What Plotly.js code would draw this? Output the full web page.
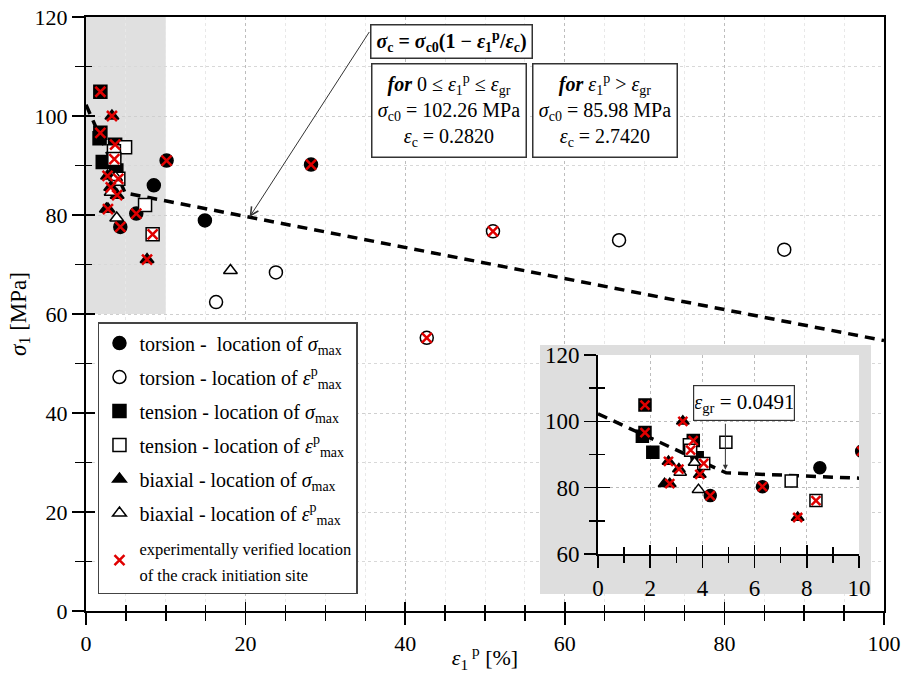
<!DOCTYPE html>
<html>
<head>
<meta charset="utf-8">
<script src="https://cdn.plot.ly/plotly-3.0.1.min.js"></script>
<style>html,body{margin:0;padding:0;background:#fff;}#chart{width:903px;height:673px;}</style>
</head>
<body>
<div id="chart"></div>
<script>
// ---- data (strain in %, stress in MPa) ----
// torsion - location of sigma_max (filled circles)
const torSigX = [28.2, 14.9, 8.5, 10.1, 6.3, 4.3];
const torSigY = [90.2, 78.9, 86.0, 91.0, 80.3, 77.6];
const torSigV = [1, 0, 0, 1, 1, 1];
// torsion - location of eps^p_max (open circles)
const torEpsX = [16.3, 23.8, 66.8, 87.5, 51.0, 42.7];
const torEpsY = [62.4, 68.4, 74.9, 73.0, 76.7, 55.2];
const torEpsV = [0, 0, 0, 0, 1, 1];
// tension - location of sigma_max (filled squares)
const tenSigX = [1.8, 1.7, 1.8, 2.1, 3.65, 3.8];
const tenSigY = [104.9, 95.5, 96.6, 90.7, 94.2, 89.0];
const tenSigV = [1, 0, 1, 0, 1, 0];
// tension - location of eps^p_max (open squares)
const tenEpsX = [4.9, 7.4, 8.35, 3.5, 3.55, 4.05];
const tenEpsY = [93.7, 82.0, 76.1, 92.9, 91.3, 87.3];
const tenEpsV = [0, 0, 1, 0, 1, 1];
// biaxial - location of sigma_max (filled triangles)
const biaSigX = [3.25, 2.7, 3.1, 3.9, 2.55, 2.75, 7.65];
const biaSigY = [100.0, 87.9, 85.6, 84.0, 81.2, 81.2, 71.0];
const biaSigV = [1, 1, 1, 1, 0, 1, 1];
// biaxial - location of eps^p_max (open triangles)
const biaEpsX = [18.1, 3.7, 3.15, 3.85];
const biaEpsY = [68.8, 87.6, 84.6, 79.4];
const biaEpsV = [0, 0, 0, 0];
// fitted bilinear criterion (vertices)
const fitX = [0, 4.91, 100];
const fitY = [102.26, 84.45, 54.62];

const legendNames = [
  'torsion -  location of <i>σ</i><sub>max</sub>',
  'torsion - location of <i>ε</i><sup>p</sup><sub>max</sub>',
  'tension - location of <i>σ</i><sub>max</sub>',
  'tension - location of <i>ε</i><sup>p</sup><sub>max</sub>',
  'biaxial - location of <i>σ</i><sub>max</sub>',
  'biaxial - location of <i>ε</i><sup>p</sup><sub>max</sub>',
  '<span style="font-size:16.5px">experimentally verified location</span><br><span style="font-size:16.5px">of the crack initiation site</span>'
];

const FONT = 'Liberation Serif, Times New Roman, serif';
const RED = '#e00000';

const series = [
  {x: torSigX, y: torSigY, v: torSigV, sym: 'circle', fill: '#000', size: 13},
  {x: torEpsX, y: torEpsY, v: torEpsV, sym: 'circle', fill: '#fff', size: 13},
  {x: tenSigX, y: tenSigY, v: tenSigV, sym: 'square', fill: '#000', size: 13},
  {x: tenEpsX, y: tenEpsY, v: tenEpsV, sym: 'square', fill: '#fff', size: 13},
  {x: biaSigX, y: biaSigY, v: biaSigV, sym: 'triangle-up', fill: '#000', size: 12},
  {x: biaEpsX, y: biaEpsY, v: biaEpsV, sym: 'triangle-up', fill: '#fff', size: 12}
];

const data = [];
function addSet(xa, ya, legend) {
  data.push({x: fitX, y: fitY, xaxis: xa, yaxis: ya, mode: 'lines', showlegend: false,
    hoverinfo: 'skip', legendgroup: 'fit', line: {color: '#000', width: 3.5, dash: '10px,7px'}});
  series.forEach((s, i) => {
    data.push({x: s.x, y: s.y, xaxis: xa, yaxis: ya, mode: 'markers', type: 'scatter',
      name: legendNames[i], showlegend: legend, legendgroup: 'g' + i,
      marker: {symbol: s.sym, color: s.fill, size: legend ? s.size : s.size - 1,
               line: {color: '#000', width: 1.5}}});
  });
  const vx = [], vy = [];
  series.forEach(s => s.v.forEach((f, k) => { if (f) { vx.push(s.x[k]); vy.push(s.y[k]); } }));
  data.push({x: vx, y: vy, xaxis: xa, yaxis: ya, mode: 'markers', type: 'scatter',
    name: legendNames[6], showlegend: legend, legendgroup: 'g6',
    marker: {symbol: 'x-thin-open', size: legend ? 10 : 9, color: RED, line: {color: RED, width: 2.5}}});
}
addSet('x', 'y', true);
addSet('x3', 'y3', false);
// empty helper traces so the overlay tick axes exist
[['x4', 'y'], ['x', 'y4'], ['x5', 'y3'], ['x3', 'y5'], ['x2', 'y2']].forEach(p => {
  data.push({x: [], y: [], xaxis: p[0], yaxis: p[1], showlegend: false, hoverinfo: 'skip', legendgroup: 'fit'});
});

const tickFont = {family: FONT, size: 22, color: '#000'};
const insetFont = {family: FONT, size: 23, color: '#000'};
const layout = {
  width: 903, height: 673,
  margin: {l: 86, r: 19, t: 17, b: 62},
  paper_bgcolor: '#fff', plot_bgcolor: '#fff',
  font: {family: FONT, size: 20, color: '#000'},
  showlegend: true,
  xaxis: {domain: [0, 1], range: [0, 100], anchor: 'y', dtick: 20, tick0: 0,
    showline: true, linecolor: '#000', linewidth: 2, mirror: true,
    ticks: 'outside', ticklen: 12, tickwidth: 1.5, tickcolor: '#000',
    showgrid: true, gridcolor: '#bdbdbd', griddash: 'dot', gridwidth: 1,
    minor: {dtick: 5, ticks: 'outside', ticklen: 8, tickwidth: 1.5, tickcolor: '#000',
            showgrid: true, gridcolor: '#e8e8e8', gridwidth: 1},
    zeroline: false, tickfont: tickFont,
    title: {text: '<i>ε</i><sub>1</sub><sup> p</sup> [%]', font: {family: FONT, size: 22}, standoff: 2}},
  yaxis: {domain: [0, 1], range: [0, 120], anchor: 'x', dtick: 20, tick0: 0,
    showline: true, linecolor: '#000', linewidth: 2, mirror: true,
    ticks: 'outside', ticklen: 12, tickwidth: 1.5, tickcolor: '#000',
    showgrid: true, gridcolor: '#cfcfcf', griddash: 'dot', gridwidth: 1,
    minor: {dtick: 10, ticks: 'outside', ticklen: 9, tickwidth: 1.5, tickcolor: '#000',
            showgrid: true, gridcolor: '#d8d8d8', griddash: 'dot', gridwidth: 1},
    zeroline: false, tickfont: tickFont,
    title: {text: '<i>σ</i><sub>1</sub> [MPa]', font: {family: FONT, size: 23}, standoff: 2}},
  // inside half of the crossing ticks (main)
  xaxis4: {overlaying: 'x', anchor: 'y', side: 'bottom', range: [0, 100], dtick: 20, tick0: 0,
    ticks: 'inside', ticklen: 9, tickwidth: 1.5, tickcolor: '#000', showticklabels: false,
    showgrid: false, zeroline: false, showline: false,
    minor: {dtick: 5, ticks: 'inside', ticklen: 6, tickwidth: 1.5, tickcolor: '#000', showgrid: false}},
  yaxis4: {overlaying: 'y', anchor: 'x', side: 'left', range: [0, 120], dtick: 20, tick0: 0,
    ticks: 'inside', ticklen: 9, tickwidth: 1.5, tickcolor: '#000', showticklabels: false,
    showgrid: false, zeroline: false, showline: false,
    minor: {dtick: 10, ticks: 'inside', ticklen: 6, tickwidth: 1.5, tickcolor: '#000', showgrid: false}},
  // grey panel behind the inset
  xaxis2: {domain: [0.5689, 0.9837], range: [0, 1], anchor: 'y2', visible: false, fixedrange: true},
  yaxis2: {domain: [0.0286, 0.4478], range: [0, 1], anchor: 'x2', visible: false, fixedrange: true},
  // inset
  xaxis3: {domain: [0.6416, 0.9687], range: [0, 10], anchor: 'y3', dtick: 2, tick0: 0,
    showline: true, linecolor: '#000', linewidth: 2,
    ticks: 'outside', ticklen: 12, tickwidth: 1.5, tickcolor: '#000',
    showgrid: true, gridcolor: '#bdbdbd', griddash: 'dot', gridwidth: 1,
    minor: {dtick: 1, ticks: 'outside', ticklen: 7, tickwidth: 1.5, tickcolor: '#000', showgrid: false},
    zeroline: false, tickfont: insetFont},
  yaxis3: {domain: [0.096, 0.431], range: [60, 120], anchor: 'x3', dtick: 20, tick0: 0,
    showline: true, linecolor: '#000', linewidth: 2,
    ticks: 'outside', ticklen: 12, tickwidth: 1.5, tickcolor: '#000',
    showgrid: true, gridcolor: '#bdbdbd', griddash: 'dot', gridwidth: 1,
    minor: {dtick: 10, ticks: 'outside', ticklen: 7, tickwidth: 1.5, tickcolor: '#000', showgrid: false},
    zeroline: false, tickfont: insetFont},
  xaxis5: {overlaying: 'x3', anchor: 'y3', side: 'bottom', range: [0, 10], dtick: 2, tick0: 0,
    ticks: 'inside', ticklen: 9, tickwidth: 1.5, tickcolor: '#000', showticklabels: false,
    showgrid: false, zeroline: false, showline: false,
    minor: {dtick: 1, ticks: 'inside', ticklen: 7, tickwidth: 1.5, tickcolor: '#000', showgrid: false}},
  yaxis5: {overlaying: 'y3', anchor: 'x3', side: 'left', range: [60, 120], dtick: 20, tick0: 0,
    ticks: 'inside', ticklen: 12, tickwidth: 1.5, tickcolor: '#000', showticklabels: false,
    showgrid: false, zeroline: false, showline: false,
    minor: {dtick: 10, ticks: 'inside', ticklen: 7, tickwidth: 1.5, tickcolor: '#000', showgrid: false}},
  shapes: [
    {type: 'rect', xref: 'x', yref: 'y', x0: 0, x1: 10, y0: 60, y1: 120, layer: 'below',
     fillcolor: '#e0e0e0', line: {width: 0}},
    {type: 'rect', xref: 'x2', yref: 'y2', x0: 0, x1: 1, y0: 0, y1: 1, layer: 'below',
     fillcolor: '#dedede', line: {width: 0}}
  ],
  legend: {x: 0.015, y: 0.4865, xanchor: 'left', yanchor: 'top',
    bgcolor: '#fff', bordercolor: '#444', borderwidth: 1.5,
    font: {family: FONT, size: 20, color: '#000'}, tracegroupgap: 5, traceorder: 'grouped'},
  annotations: [
    {xref: 'paper', yref: 'paper', x: 0.4586, y: 0.9588, xanchor: 'center', yanchor: 'middle', showarrow: false,
     text: '<b><i>σ</i><sub>c</sub> = <i>σ</i><sub>c0</sub>(1 − <i>ε</i><sub>1</sub><sup>p</sup>/<i>ε</i><sub>c</sub>)</b>',
     font: {family: FONT, size: 20, color: '#000'}, bgcolor: '#fff', bordercolor: '#333', borderwidth: 1.5,
     width: 158, height: 30, borderpad: 1},
    {xref: 'paper', yref: 'paper', x: 0.4543, y: 0.8418, xanchor: 'center', yanchor: 'middle', showarrow: false,
     text: '<b><i>for</i></b> 0 ≤ <i>ε</i><sub>1</sub><sup>p</sup> ≤ <i>ε</i><sub>gr</sub><br><i>σ</i><sub>c0</sub> = 102.26 MPa<br><i>ε</i><sub>c</sub> = 0.2820',
     font: {family: FONT, size: 20, color: '#000'}, bgcolor: '#fff', bordercolor: '#333', borderwidth: 1.5,
     width: 151, height: 90, borderpad: 1},
    {xref: 'paper', yref: 'paper', x: 0.651, y: 0.8418, xanchor: 'center', yanchor: 'middle', showarrow: false,
     text: '<b><i>for</i></b> <i>ε</i><sub>1</sub><sup>p</sup> > <i>ε</i><sub>gr</sub><br><i>σ</i><sub>c0</sub> = 85.98 MPa<br><i>ε</i><sub>c</sub> = 2.7420',
     font: {family: FONT, size: 20, color: '#000'}, bgcolor: '#fff', bordercolor: '#333', borderwidth: 1.5,
     width: 141, height: 90, borderpad: 1},
    {xref: 'x', yref: 'y', x: 20.5, y: 79.6, ax: 121, ay: -187, showarrow: true,
     text: ' ', font: {size: 1}, arrowhead: 5, arrowsize: 1.6, arrowwidth: 1, arrowcolor: '#333'},
    {xref: 'paper', yref: 'paper', x: 0.8246, y: 0.3502, xanchor: 'center', yanchor: 'middle', showarrow: false,
     text: '<i>ε</i><sub>gr</sub> = 0.0491',
     font: {family: FONT, size: 21, color: '#000'}, bgcolor: '#fff', bordercolor: '#333', borderwidth: 1.2,
     width: 98, height: 32, borderpad: 1},
    {xref: 'x3', yref: 'y3', x: 4.88, y: 85.4, ax: 0, ay: -48, showarrow: true,
     text: ' ', font: {size: 1}, arrowhead: 2, arrowsize: 1, arrowwidth: 1, arrowcolor: '#333'}
  ]
};

Plotly.newPlot('chart', data, layout, {displayModeBar: false, staticPlot: true});
</script>
</body>
</html>
